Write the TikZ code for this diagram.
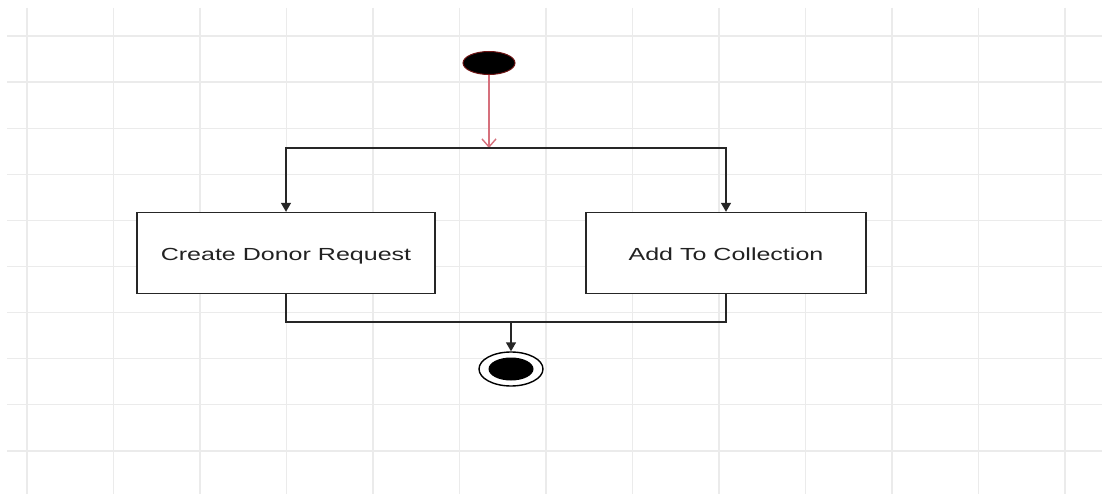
\documentclass[tikz,border=0pt]{standalone}
\usepackage{fontspec}
\newfontfamily\diagfont[FakeStretch=1.43]{Liberation Sans}
\usetikzlibrary{arrows.meta,positioning,shapes.geometric}
\definecolor{gridline}{RGB}{235,235,235}
\definecolor{startedge}{RGB}{110,20,20}
\definecolor{initflow}{RGB}{214,112,124}
\definecolor{labeltext}{RGB}{34,34,34}

\begin{document}
\begin{tikzpicture}[
    x=1pt, y=-1pt,
    font=\diagfont\fontsize{17.5}{21}\selectfont,
    flow/.style={-{Triangle[length=9pt, width=10pt]}, line width=1.4pt, draw=black!85},
    bar/.style={line width=1.4pt, draw=black!85},
    initarrow/.style={-{Straight Barb[length=8pt, width=14pt]}, line width=1.4pt, draw=initflow},
    action/.style={draw=black!85, line width=1.4pt, fill=white, minimum height=81pt, text height=14pt, text depth=0pt, text=labeltext},
    startnode/.style={ellipse, fill=black, draw=startedge, line width=1pt, minimum width=52pt, minimum height=23pt, inner sep=0pt},
    endring/.style={ellipse, draw=black, line width=1.4pt, fill=white, minimum width=64pt, minimum height=34pt, inner sep=0pt},
    enddot/.style={ellipse, fill=black, minimum width=45pt, minimum height=23pt, inner sep=0pt}
  ]
  \useasboundingbox (0,0) rectangle (1102,494);
  \fill[white] (0,0) rectangle (1102,494);

  % background grid
  \foreach \gx in {0,...,12}
    \draw[gridline, line width=1.2pt] ({27+86.5*\gx},8) -- ({27+86.5*\gx},494);
  \foreach \gy in {0,...,9}
    \draw[gridline, line width=1.2pt] (7,{36+46.1*\gy}) -- (1102,{36+46.1*\gy});

  \node[startnode] (start) at (489,63) {};
  \coordinate (fork) at (489,148);

  \node[action, minimum width=298pt] (create) at (286,253) {Create Donor Request};
  \node[action, minimum width=280pt] (add) at (726,253) {Add To Collection};

  \coordinate (join) at (511,322);
  \node[endring] (final) at (511,369) {};
  \node[enddot] (finaldot) at (final.center) {};

  \draw[initarrow] (start) -- (fork);
  \draw[flow] (fork) -| (create);
  \draw[flow] (fork) -| (add);

  \draw[bar] (create) |- (join);
  \draw[bar] (add) |- (join);
  \draw[flow] (join) -- (final);
\end{tikzpicture}
\end{document}
